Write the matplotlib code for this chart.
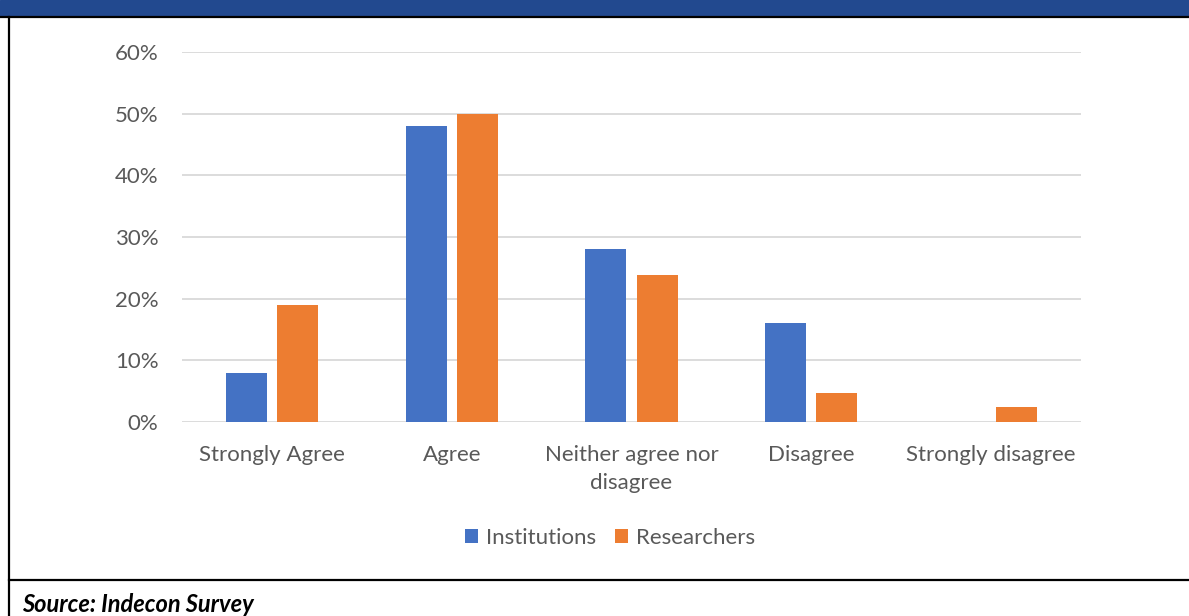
import numpy as np
import matplotlib.pyplot as plt
from matplotlib.patches import Rectangle
from matplotlib.lines import Line2D

categories = ["Strongly Agree", "Agree", "Neither agree nor\ndisagree", "Disagree", "Strongly disagree"]
institutions = [0.08, 0.48, 0.28, 0.16, 0.0]
researchers = [0.19, 0.50, 0.238, 0.047, 0.024]
yticks = [0, 0.1, 0.2, 0.3, 0.4, 0.5, 0.6]

plt.rcParams['font.family'] = ['Lato', 'DejaVu Sans']

fig = plt.figure(figsize=(11.89, 6.16), dpi=100)
ax = fig.add_axes([182/1189, 1-422/616, 899/1189, 370/616])

x = np.arange(len(categories))
w = 0.228
off = 0.142
ax.bar(x - off, institutions, w, color='#4472C4', label='Institutions', zorder=3)
ax.bar(x + off, researchers, w, color='#ED7D31', label='Researchers', zorder=3)

ax.set_xlim(-0.5, len(categories) - 0.5)
ax.set_ylim(0, 0.6)
ax.set_yticks(yticks)
ax.set_yticklabels([f"{int(round(t*100))}%" for t in yticks])
ax.set_xticks(x)
ax.set_xticklabels(categories, linespacing=1.5)
ax.grid(axis='y', color='#D9D9D9', linewidth=1.3, zorder=0)
for s in ax.spines.values():
    s.set_visible(False)
ax.tick_params(length=0, labelsize=16, colors='#595959')
ax.tick_params(axis='y', pad=17)
ax.tick_params(axis='x', pad=16.5)

ax.legend(loc='center', bbox_to_anchor=(610/1189, 1-538/616), bbox_transform=fig.transFigure,
          ncol=2, frameon=False, fontsize=16, labelcolor='#595959',
          handlelength=0.6, handleheight=0.6, handletextpad=0.35, columnspacing=0.85)

# frame decorations
fig.patches.append(Rectangle((0, 1-16/616), 1, 16/616, transform=fig.transFigure,
                             color='#22498F', zorder=0))
fig.lines.append(Line2D([0, 1], [1-16.5/616]*2, transform=fig.transFigure, color='black', lw=1.6))
fig.lines.append(Line2D([8.5/1189]*2, [0, 1-16.5/616], transform=fig.transFigure, color='black', lw=1.6))
fig.lines.append(Line2D([8.5/1189, 1], [1-580/616]*2, transform=fig.transFigure, color='black', lw=1.6))

fig.text(22/1189, 1-604/616, "Source: Indecon Survey", fontsize=17, fontweight='bold',
         fontstyle='italic', va='center', ha='left', color='black')

fig.savefig("out.png", dpi=100)
